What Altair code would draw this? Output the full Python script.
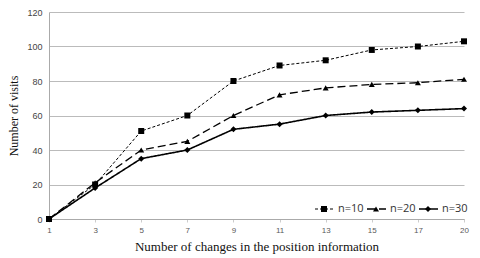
import altair as alt
import pandas as pd

x_labels = ["1", "3", "5", "7", "9", "11", "13", "15", "17", "20"]
n10 = [0, 20, 51, 60, 80, 89, 92, 98, 100, 103]
n20 = [0, 21, 40, 45, 60, 72, 76, 78, 79, 81]
n30 = [0, 18, 35, 40, 52, 55, 60, 62, 63, 64]
series = ["n=10", "n=20", "n=30"]
shapes = ["square", "triangle-up", "diamond"]
dashes = [[3, 2], [8, 4], [1, 0]]
widths = [1, 1.6, 1.6]

rows = []
for name, vals in zip(series, [n10, n20, n30]):
    for xl, v in zip(x_labels, vals):
        rows.append({"x": xl, "y": v, "s": name})
df = pd.DataFrame(rows)

base = alt.Chart(df).mark_line(point=alt.OverlayMarkDef(filled=True, size=36, color="black"),
                               color="black").encode(
    x=alt.X("x:O", sort=x_labels, scale=alt.Scale(padding=0),
            axis=alt.Axis(title="Number of changes in the position information", labelAngle=0,
                          labelFont="Liberation Sans", labelFontSize=8, labelColor="#595959",
                          titleFont="Liberation Serif", titleFontSize=13, titleFontWeight="normal",
                          titleColor="#111", domainColor="#aaa", tickColor="#ccc", tickSize=3,
                          labelPadding=4, titlePadding=6)),
    y=alt.Y("y:Q", scale=alt.Scale(domain=[0, 120]),
            axis=alt.Axis(title="Number of visits", values=[0, 20, 40, 60, 80, 100, 120],
                          labelFont="Liberation Sans", labelFontSize=9, labelColor="#444",
                          titleFont="Liberation Serif", titleFontSize=12, titleFontWeight="normal",
                          titleColor="#111", domainColor="#aaa", ticks=False, labelPadding=7,
                          gridColor="#bbb", titlePadding=6)),
    strokeDash=alt.StrokeDash("s:N", scale=alt.Scale(domain=series, range=dashes), legend=None),
    shape=alt.Shape("s:N", scale=alt.Scale(domain=series, range=shapes), legend=None),
    strokeWidth=alt.StrokeWidth("s:N", scale=alt.Scale(domain=series, range=widths), legend=None),
)

# manual legend (inside plot, bottom right)
one = pd.DataFrame({"a": [0]})
leg_y = 197
leg_layers = []
for i, (name, shp, dsh, w) in enumerate(zip(series, shapes, dashes, widths)):
    x0 = 266 + i * 52
    leg_layers.append(alt.Chart(one).mark_rule(color="black", strokeDash=dsh, strokeWidth=w).encode(
        x=alt.value(x0), x2=alt.value(x0 + 19), y=alt.value(leg_y)))
    leg_layers.append(alt.Chart(one).mark_point(shape=shp, filled=True, size=36, color="black", opacity=1).encode(
        x=alt.value(x0 + 9), y=alt.value(leg_y)))
    leg_layers.append(alt.Chart(one).mark_text(text=name, align="left", baseline="middle",
                                               font="Open Sans", fontSize=11, color="#333").encode(
        x=alt.value(x0 + 23), y=alt.value(leg_y)))

chart = alt.layer(base, *leg_layers).properties(
    width=415, height=207,
    autosize=alt.AutoSizeParams(type="none"),
    padding={"left": 41, "top": 4, "right": 8, "bottom": 36},
).configure_view(stroke=None).configure_axisX(grid=False)

chart.save("out.html", embed_options={"renderer": "svg", "actions": False})
